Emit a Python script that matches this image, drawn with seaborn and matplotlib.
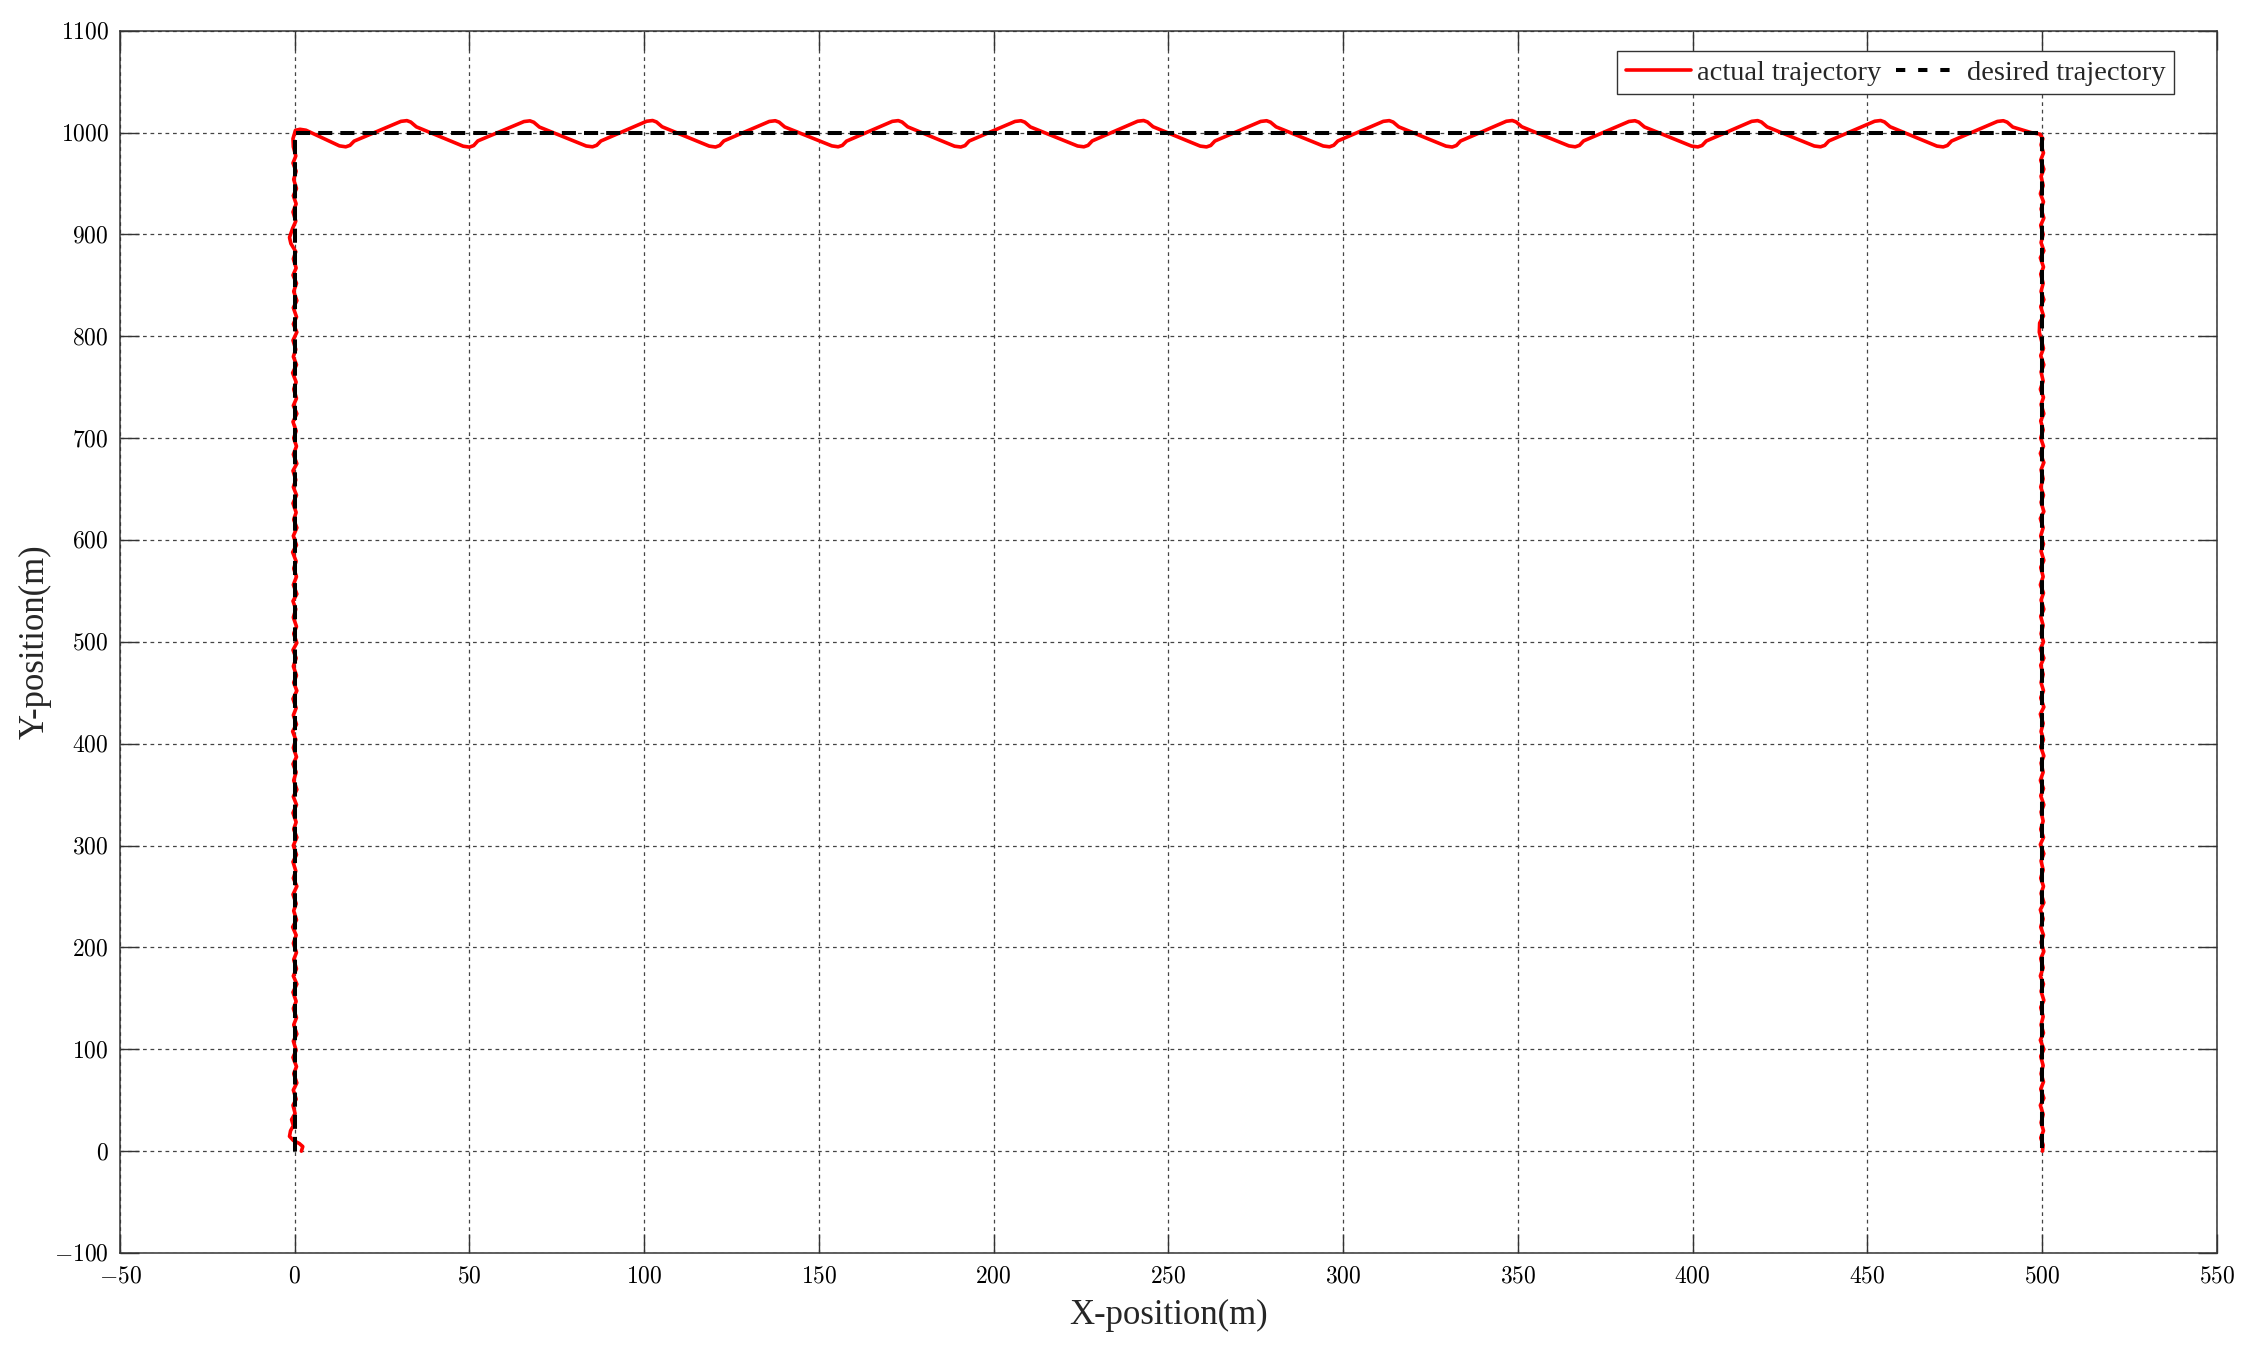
import numpy as np
import pandas as pd
import matplotlib
matplotlib.use("Agg")
import matplotlib.pyplot as plt
from matplotlib.ticker import FuncFormatter
import seaborn as sns

# ---------------- data ----------------
# desired trajectory corners
desired_x = [0, 0, 500, 500]
desired_y = [0, 1000, 1000, 0]

# actual trajectory: start near origin
start_x = [1.9, 2.3, 1.3, -0.4, -1.5, -1.2, -0.4]
start_y = [0.0, 4.5, 7.5, 10.5, 14.5, 20.0, 25.0]

# left leg (x ~ 0) wiggle
left_y = [31, 37, 45, 51, 60, 67, 76, 83, 92, 99,
          108, 115, 124, 131, 140, 147, 156, 164, 172, 179,
          188, 195, 204, 212, 220, 227, 236, 243, 252, 260,
          268, 275, 284, 291, 300, 308, 316, 323, 332, 340,
          348, 355, 364, 372, 380, 387, 396, 404, 412, 419,
          428, 435, 444, 452, 460, 467, 476, 484, 492, 499,
          508, 515, 524, 532, 540, 547, 556, 564, 572, 579,
          588, 595, 604, 612, 620, 627, 636, 644, 652, 659,
          668, 675, 684, 692, 700, 707, 716, 724, 732, 739,
          748, 755, 764, 772, 780, 787, 796, 804, 812, 819,
          828, 835, 844, 852, 860, 867, 876, 883, 891, 897,
          906, 913, 922, 930, 938, 945, 954, 962, 970, 977,
          986, 994]
left_x = [-0.9, 0.1, -0.5, 0.4, -0.4, 0.6, -0.3, 0.5, -0.5, 0.4,
          -0.4, 0.6, -0.3, 0.5, -0.4, 0.4, -0.5, 0.6, -0.4, 0.5,
          -0.3, 0.5, -0.4, 0.4, -0.6, 0.5, -0.3, 0.4, -0.5, 0.6,
          -0.4, 0.3, -0.5, 0.5, -0.4, 0.6, -0.3, 0.4, -0.5, 0.5,
          -0.4, 0.6, -0.3, 0.4, -0.5, 0.5, -0.4, 0.3, -0.6, 0.5,
          -0.4, 0.4, -0.5, 0.6, -0.3, 0.5, -0.4, 0.4, -0.5, 0.6,
          -0.3, 0.5, -0.4, 0.3, -0.5, 0.6, -0.4, 0.5, -0.3, 0.4,
          -0.6, 0.5, -0.4, 0.6, -0.3, 0.4, -0.5, 0.5, -0.4, 0.3,
          -0.5, 0.6, -0.4, 0.5, -0.3, 0.4, -0.5, 0.6, -0.4, 0.5,
          -0.3, 0.4, -0.6, 0.5, -0.4, 0.3, -0.5, 0.6, -0.4, 0.5,
          -0.4, 0.6, -0.3, 0.5, -0.5, 0.4, -0.4, 0.3, -1.1, -1.5,
          -0.6, 0.3, -0.5, 0.4, -0.4, 0.5, -0.3, 0.4, -0.5, 0.3,
          -0.4, -0.5]

# top leg (y ~ 1000): troughs, kinks and peaks
top_x = [0.2, 1.5, 3.2,
         12.8, 14.6, 15.8, 17.0, 30.4, 32.1, 33.2, 34.8,
         48.2, 50.0, 51.2, 52.4, 65.6, 67.3, 68.4, 70.0,
         83.4, 85.2, 86.4, 87.6, 100.7, 102.4, 103.5, 105.1,
         118.6, 120.4, 121.6, 122.8, 135.8, 137.5, 138.6, 140.2,
         153.7, 155.5, 156.7, 157.9, 171.0, 172.7, 173.8, 175.4,
         188.8, 190.6, 191.8, 193.0, 206.1, 207.8, 208.9, 210.5,
         224.0, 225.8, 227.0, 228.2, 241.2, 242.9, 244.0, 245.6,
         259.1, 260.9, 262.1, 263.3, 276.4, 278.1, 279.2, 280.8,
         294.3, 296.1, 297.3, 298.5, 311.5, 313.2, 314.3, 315.9,
         329.4, 331.2, 332.4, 333.6, 346.7, 348.4, 349.5, 351.1,
         364.6, 366.4, 367.6, 368.8, 381.8, 383.5, 384.6, 386.2,
         399.7, 401.5, 402.7, 403.9, 416.9, 418.6, 419.7, 421.3,
         434.8, 436.6, 437.8, 439.0, 452.1, 453.8, 454.9, 456.5,
         469.9, 471.7, 472.9, 474.1, 487.2, 488.9, 490.0, 491.6,
         496.8, 499.4]
top_y = [1002.2, 1003.2, 1002.3,
         986.9, 986.0, 987.4, 991.6, 1011.0, 1011.7, 1010.3, 1005.6,
         986.6, 985.7, 987.2, 991.8, 1010.8, 1011.5, 1010.1, 1005.4,
         986.8, 986.0, 987.5, 991.7, 1011.1, 1011.8, 1010.4, 1005.7,
         986.7, 985.8, 987.3, 991.8, 1010.9, 1011.6, 1010.2, 1005.5,
         986.9, 986.0, 987.4, 991.6, 1011.0, 1011.7, 1010.3, 1005.6,
         986.6, 985.8, 987.2, 991.7, 1010.9, 1011.6, 1010.2, 1005.5,
         986.8, 986.0, 987.4, 991.8, 1011.1, 1011.8, 1010.4, 1005.7,
         986.7, 985.9, 987.3, 991.7, 1010.9, 1011.6, 1010.2, 1005.6,
         986.8, 986.0, 987.5, 991.8, 1011.0, 1011.7, 1010.3, 1005.6,
         986.7, 985.8, 987.3, 991.7, 1011.1, 1011.8, 1010.4, 1005.7,
         986.9, 986.0, 987.4, 991.8, 1010.9, 1011.6, 1010.2, 1005.5,
         986.7, 985.9, 987.3, 991.7, 1011.0, 1011.7, 1010.3, 1005.6,
         986.8, 986.0, 987.4, 991.8, 1011.1, 1011.8, 1010.4, 1005.7,
         986.7, 985.9, 987.3, 991.7, 1010.9, 1011.6, 1010.2, 1005.4,
         1000.0, 998.4]

# right leg (x ~ 500) wiggle, top to bottom
right_y = [994, 988, 980, 973, 964, 957, 948, 940, 932, 925,
           916, 909, 900, 892, 884, 877, 868, 861, 852, 844,
           836, 829, 820, 813, 804, 796, 788, 781, 772, 765,
           756, 748, 740, 733, 724, 717, 708, 700, 692, 685,
           676, 669, 660, 652, 644, 637, 628, 621, 612, 604,
           596, 589, 580, 573, 564, 556, 548, 541, 532, 525,
           516, 508, 500, 493, 484, 477, 468, 460, 452, 445,
           436, 429, 420, 412, 404, 397, 388, 381, 372, 364,
           356, 349, 340, 333, 324, 316, 308, 301, 292, 285,
           276, 268, 260, 253, 244, 237, 228, 220, 212, 205,
           196, 189, 180, 172, 164, 157, 148, 141, 132, 124,
           116, 109, 100, 93, 84, 76, 68, 61, 52, 45,
           36, 28, 20, 13, 6, 0]
right_x = [500.2, 499.7, 500.4, 499.6, 500.5, 499.7, 500.3, 499.5, 500.4, 499.7,
           500.5, 499.6, 500.3, 499.7, 500.5, 499.5, 500.4, 499.6, 500.3, 499.7,
           500.5, 499.6, 500.4, 499.3, 499.2, 499.8, 500.4, 499.6, 500.5, 499.7,
           500.3, 499.5, 500.4, 499.7, 500.5, 499.6, 500.3, 499.6, 500.4, 499.5,
           500.5, 499.7, 500.3, 499.6, 500.4, 499.7, 500.5, 499.5, 500.3, 499.6,
           500.4, 499.7, 500.5, 499.6, 500.3, 499.5, 500.4, 499.7, 500.5, 499.6,
           500.3, 499.7, 500.4, 499.5, 500.5, 499.6, 500.3, 499.7, 500.4, 499.6,
           500.5, 499.5, 500.3, 499.7, 500.4, 499.6, 500.5, 499.7, 500.3, 499.5,
           500.4, 499.6, 500.5, 499.7, 500.3, 499.6, 500.4, 499.5, 500.5, 499.7,
           500.3, 499.6, 500.4, 499.7, 500.5, 499.5, 500.3, 499.6, 500.4, 499.7,
           500.5, 499.6, 500.3, 499.5, 500.4, 499.7, 500.5, 499.6, 500.3, 499.7,
           500.4, 499.5, 500.5, 499.6, 500.3, 499.7, 500.4, 499.6, 500.5, 499.5,
           500.3, 499.7, 500.4, 499.6, 500.3, 500.1]

x_ticks = [-50, 0, 50, 100, 150, 200, 250, 300, 350, 400, 450, 500, 550]
y_ticks = [-100, 0, 100, 200, 300, 400, 500, 600, 700, 800, 900, 1000, 1100]

# ---------------- assemble ----------------
actual = pd.DataFrame({
    "x": start_x + left_x + top_x + right_x,
    "y": start_y + left_y + top_y + right_y,
})
desired = pd.DataFrame({"x": desired_x, "y": desired_y})

# ---------------- style ----------------
sns.set_theme(style="white")
plt.rcParams["font.family"] = ["Liberation Serif", "DejaVu Serif"]
plt.rcParams["mathtext.fontset"] = "cm"

fig = plt.figure(figsize=(22.6, 13.46), dpi=100)
ax = fig.add_axes([0.0531, 0.0691, 0.9278, 0.9081])

sns.lineplot(data=actual, x="x", y="y", sort=False, estimator=None,
             color="#ff0000", linewidth=2.6, ax=ax, label="actual trajectory",
             zorder=3)
sns.lineplot(data=desired, x="x", y="y", sort=False, estimator=None,
             color="black", linewidth=2.9, ax=ax, label="desired trajectory",
             zorder=4)
ax.lines[1].set_dashes([3.5, 2.0])

ax.set_xlim(-50, 550)
ax.set_ylim(-100, 1100)
ax.set_xticks(x_ticks)
ax.set_yticks(y_ticks)
fmt = FuncFormatter(lambda v, p: r"$%d$" % v)
ax.xaxis.set_major_formatter(fmt)
ax.yaxis.set_major_formatter(fmt)
ax.tick_params(axis="both", which="major", direction="in", length=14,
               width=1.0, color="#333333", labelsize=17, labelcolor="black",
               top=True, right=True, bottom=True, left=True)
ax.tick_params(axis="x", pad=10)
ax.tick_params(axis="y", pad=8)

ax.grid(True, linestyle=(0, (3, 3)), color="#444444", linewidth=0.9)
ax.set_axisbelow(True)
for s in ax.spines.values():
    s.set_color("#333333")
    s.set_linewidth(1.1)
    s.set_visible(True)

ax.set_xlabel("X-position(m)", fontsize=25, labelpad=8)
ax.set_ylabel("Y-position(m)", fontsize=25, labelpad=2)

leg = ax.legend(loc="upper right", bbox_to_anchor=(0.9795, 0.983),
                borderaxespad=0, ncol=2, fontsize=20.5, handlelength=2.3,
                handletextpad=0.2, columnspacing=0.5, borderpad=0.3,
                fancybox=False, framealpha=1, edgecolor="#333333")
leg.get_frame().set_linewidth(1.0)
leg.legend_handles[1].set_dashes([2.3, 3.2])

fig.savefig("out.png", dpi=100)
